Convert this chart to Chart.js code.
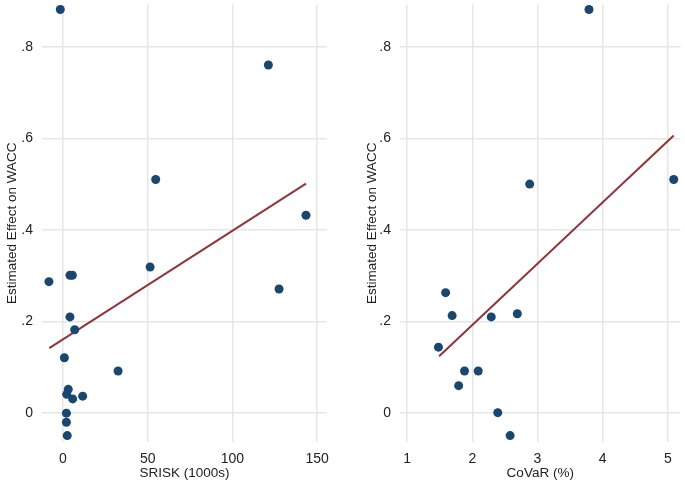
<!DOCTYPE html>
<html>
<head>
<meta charset="utf-8">
<script src="https://cdn.jsdelivr.net/npm/chart.js@4.4.1/dist/chart.umd.min.js"></script>
<style>
  body { margin: 0; background: #fff; }
  .panel { position: absolute; top: 0; }
</style>
</head>
<body>
<div class="panel" style="left:0"><canvas id="sriskChart" width="340" height="483"></canvas></div>
<div class="panel" style="left:340px"><canvas id="covarChart" width="345" height="483"></canvas></div>
<script>
// left panel: SRISK
const srisk = [-1.6, 121.2, 54.7, 143.4, -8.3, 4.1, 5.5, 51.4, 127.5, 4.1, 6.9, 0.8, 32.5, 3.1, 2.2, 5.7, 11.6, 2, 2, 2.5];
const waccSrisk = [0.881, 0.760, 0.510, 0.432, 0.287, 0.301, 0.301, 0.319, 0.271, 0.210, 0.182, 0.121, 0.092, 0.052, 0.041, 0.031, 0.037, 0.0, -0.020, -0.049];
const sriskFitX = [-8.1, 143.4];
const sriskFitY = [0.142, 0.501];
const sriskTicks = [0, 50, 100, 150];

// right panel: CoVaR
const covar = [3.79, 2.88, 5.09, 1.59, 1.69, 2.29, 2.69, 1.48, 1.88, 2.09, 1.79, 2.39, 2.58];
const waccCovar = [0.881, 0.500, 0.510, 0.263, 0.213, 0.210, 0.217, 0.144, 0.092, 0.092, 0.060, 0.001, -0.049];
const covarFitX = [1.49, 5.09];
const covarFitY = [0.124, 0.606];
const covarTicks = [1, 2, 3, 4, 5];

const yTicks = [0, 0.2, 0.4, 0.6, 0.8];
const yTickLabels = ['0', '.2', '.4', '.6', '.8'];

const navy = 'rgb(26, 71, 111)';
const maroon = 'rgb(144, 53, 59)';
const gridColor = '#e6e6e6';
const textColor = '#222';
const tickFont = { family: 'Liberation Sans, Arial, sans-serif', size: 14 };
const titleFont = { family: 'Liberation Sans, Arial, sans-serif', size: 13.5 };

function makeChart(id, xs, ys, fitX, fitY, xTicks, xMin, xMax, xTitle, yWidth, pad) {
    const ctx = document.getElementById(id).getContext('2d');
    return new Chart(ctx, {
        type: 'scatter',
        data: {
            datasets: [{
                data: xs.map((x, i) => ({ x: x, y: ys[i] })),
                backgroundColor: navy,
                borderColor: navy,
                pointRadius: 4.5,
                pointBorderWidth: 0
            }, {
                data: fitX.map((x, i) => ({ x: x, y: fitY[i] })),
                showLine: true,
                borderColor: maroon,
                borderWidth: 2,
                pointRadius: 0,
                fill: false
            }]
        },
        options: {
            responsive: false,
            animation: false,
            layout: { padding: pad },
            plugins: { legend: { display: false }, tooltip: { enabled: false } },
            scales: {
                x: {
                    type: 'linear',
                    min: xMin,
                    max: xMax,
                    afterBuildTicks: s => { s.ticks = xTicks.map(v => ({ value: v })); },
                    afterFit: s => { s.height = 41; s.paddingLeft = 0; s.paddingRight = 0; },
                    grid: { color: gridColor, lineWidth: 1.5, drawTicks: false },
                    border: { display: false },
                    ticks: { padding: 9, color: textColor, font: tickFont, maxRotation: 0 },
                    title: { display: true, text: xTitle, color: textColor, font: titleFont, padding: 2 }
                },
                y: {
                    min: -0.063,
                    max: 0.892,
                    afterBuildTicks: s => { s.ticks = yTicks.map(v => ({ value: v })); },
                    afterFit: s => { s.width = yWidth; s.paddingTop = 0; s.paddingBottom = 0; },
                    grid: { color: gridColor, lineWidth: 1.5, drawTicks: false },
                    border: { display: false },
                    ticks: {
                        padding: 9,
                        color: textColor,
                        font: tickFont,
                        callback: v => yTickLabels[yTicks.findIndex(t => Math.abs(t - v) < 1e-9)]
                    },
                    title: { display: true, text: 'Estimated Effect on WACC', color: textColor, font: titleFont, padding: 4 }
                }
            }
        }
    });
}

makeChart('sriskChart', srisk, waccSrisk, sriskFitX, sriskFitY, sriskTicks, -12.4, 155.8,
    'SRISK (1000s)', 42, { left: 0, right: 13, top: 0, bottom: 0 });
makeChart('covarChart', covar, waccCovar, covarFitX, covarFitY, covarTicks, 0.89, 5.194,
    'CoVaR (%)', 40, { left: 20, right: 0, top: 0, bottom: 0 });
</script>
</body>
</html>
